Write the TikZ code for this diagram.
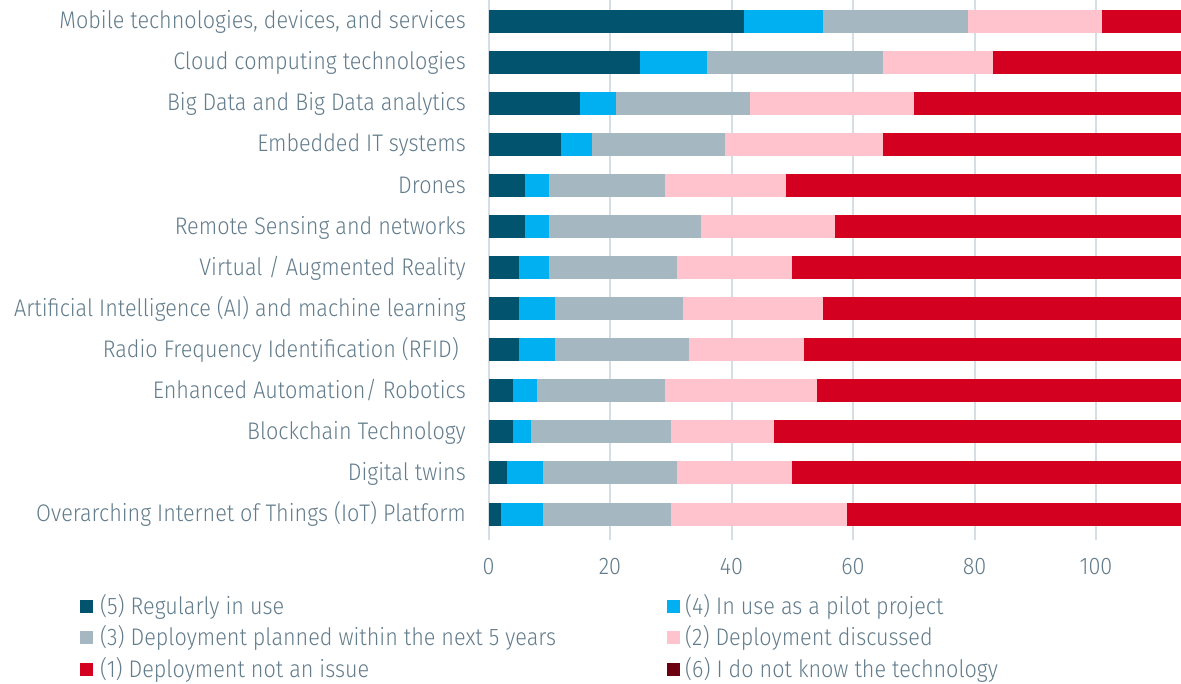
\documentclass[tikz,border=0pt]{standalone}
\usepackage{fontspec}
\setmainfont{Fira Sans Light}[FakeStretch=0.90]
\definecolor{c5}{HTML}{02546E}
\definecolor{c4}{HTML}{00B0F0}
\definecolor{c3}{HTML}{A5B7C1}
\definecolor{c2}{HTML}{FEC3CC}
\definecolor{c1}{HTML}{D40020}
\definecolor{c6}{HTML}{6B0010}
\definecolor{txt}{HTML}{627C8C}
\definecolor{gridc}{HTML}{D5DEE4}
\begin{document}
\begin{tikzpicture}[x=1pt,y=-1pt,
  lbl/.style={font=\fontsize{24}{26}\selectfont, text=txt, inner sep=0pt},
  gridline/.style={draw=gridc, line width=2pt}]
\useasboundingbox (0,0) rectangle (1181,683);
% grid and ticks
\foreach \v in {0,20,...,100}{
  \draw[gridline] ({488.5+6.075*\v},0) -- ({488.5+6.075*\v},540);
  \node[lbl, anchor=base] (t\v) at ({488.5+6.075*\v},574.3) {\v};
}
% bars
\foreach \i/\a/\b/\c/\d/\t in {
 1/42/55/79/101/{Mobile technologies, devices, and services},
 2/25/36/65/83/{Cloud computing technologies},
 3/15/21/43/70/{Big Data and Big Data analytics},
 4/12/17/39/65/{Embedded IT systems},
 5/6/10/29/49/{Drones},
 6/6/10/35/57/{Remote Sensing and networks},
 7/5/10/31/50/{Virtual / Augmented Reality},
 8/5/11/32/55/{Artificial Intelligence (AI) and machine learning},
 9/5/11/33/52/{Radio Frequency Identification (RFID)\kern7pt},
 10/4/8/29/54/{Enhanced Automation/ Robotics},
 11/4/7/30/47/{Blockchain Technology},
 12/3/9/31/50/{Digital twins},
 13/2/9/30/59/{Overarching Internet of Things (IoT) Platform}}{
  \pgfmathsetmacro\yc{21.3+41.06*(\i-1)}
  \fill[c5] (489,\yc-11.5) rectangle ({488.5+6.075*\a},\yc+11.5);
  \fill[c4] ({488.5+6.075*\a},\yc-11.5) rectangle ({488.5+6.075*\b},\yc+11.5);
  \fill[c3] ({488.5+6.075*\b},\yc-11.5) rectangle ({488.5+6.075*\c},\yc+11.5);
  \fill[c2] ({488.5+6.075*\c},\yc-11.5) rectangle ({488.5+6.075*\d},\yc+11.5);
  \fill[c1] ({488.5+6.075*\d},\yc-11.5) rectangle (1181,\yc+11.5);
  \node[lbl, anchor=base east] (l\i) at (466,\yc+7.5) {\t};
}
% legend
\foreach \col/\y/\n/\t in {
 c5/606/5/{(5) Regularly in use},
 c3/637.5/3/{(3) Deployment planned within the next 5 years},
 c1/669/1/{(1) Deployment not an issue}}{
  \fill[\col] (80,\y-6.5) rectangle ++(13,13);
  \node[lbl, anchor=base west] (g\n) at (100,\y+8) {\t};
}
\foreach \col/\y/\n/\t in {
 c4/606/4/{(4) In use as a pilot project},
 c2/637.5/2/{(2) Deployment discussed},
 c6/669/6/{(6) I do not know the technology}}{
  \fill[\col] (667,\y-6.5) rectangle ++(13,13);
  \node[lbl, anchor=base west] (g\n) at (685,\y+8) {\t};
}
\end{tikzpicture}
\end{document}
